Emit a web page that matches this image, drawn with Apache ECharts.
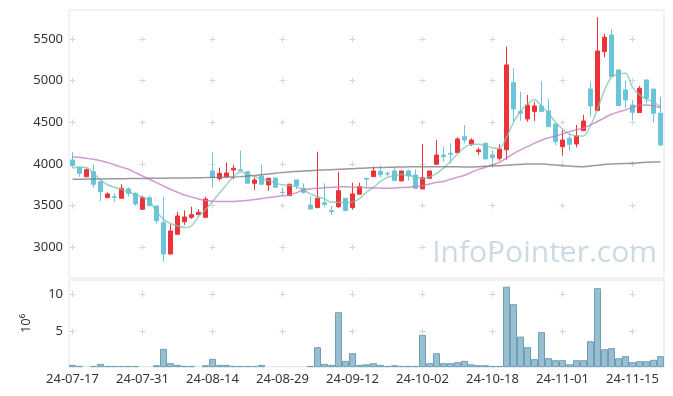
<!DOCTYPE html>
<html><head><meta charset="utf-8">
<script src="https://cdn.jsdelivr.net/npm/echarts@6/dist/echarts.min.js"></script>
<style>html,body{margin:0;padding:0;background:#fff}#c{width:673px;height:396px}</style>
</head><body><div id="c"></div>
<script>
const dates = ['24-07-17','24-07-18','24-07-19','24-07-22','24-07-23','24-07-24','24-07-25','24-07-26','24-07-29','24-07-30','24-07-31',
'24-08-01','24-08-02','24-08-05','24-08-06','24-08-07','24-08-08','24-08-09','24-08-12','24-08-13','24-08-14',
'24-08-16','24-08-19','24-08-20','24-08-21','24-08-22','24-08-23','24-08-26','24-08-27','24-08-28','24-08-29',
'24-08-30','24-09-02','24-09-03','24-09-04','24-09-05','24-09-06','24-09-09','24-09-10','24-09-11','24-09-12',
'24-09-13','24-09-19','24-09-20','24-09-23','24-09-24','24-09-25','24-09-26','24-09-27','24-09-30','24-10-02',
'24-10-04','24-10-07','24-10-08','24-10-10','24-10-11','24-10-14','24-10-15','24-10-16','24-10-17','24-10-18',
'24-10-21','24-10-22','24-10-23','24-10-24','24-10-25','24-10-28','24-10-29','24-10-30','24-10-31','24-11-01',
'24-11-04','24-11-05','24-11-06','24-11-07','24-11-08','24-11-11','24-11-12','24-11-13','24-11-14','24-11-15',
'24-11-18','24-11-19','24-11-20','24-11-21'];

const opens = [4048,3960,3847,3907,3787,3595,3607,3588,3700,3648,3455,3595,3495,3294,2918,3155,3306,3359,3391,3359,
3916,3823,3847,3928,3930,3907,3768,3856,3748,3828,3660,3619,3808,3708,3507,3475,3535,3439,3487,3588,
3475,3636,3828,3847,3912,3884,3916,3796,3916,3868,3700,3828,3996,4108,4128,4136,4328,4240,4148,4249,
4108,4068,4170,4977,4629,4541,4629,4697,4637,4481,4208,4309,4240,4400,4901,4641,5350,5551,5130,4889,
4709,4617,5010,4901,4609];
const closes = [3980,3888,3931,3756,3667,3640,3600,3708,3648,3519,3595,3499,3318,2918,3195,3375,3363,3391,3419,3579,
3840,3888,3892,3948,3920,3768,3808,3756,3828,3720,3655,3756,3740,3660,3459,3588,3515,3427,3679,3439,
3640,3727,3816,3916,3872,3880,3800,3916,3856,3708,3836,3916,4108,4088,4117,4300,4288,4288,4168,4060,
4076,4176,5190,4661,4609,4709,4697,4629,4448,4268,4288,4237,4337,4517,4697,5358,5523,5050,4701,4769,
4621,4910,4790,4609,4228];
const lows = [3956,3847,3840,3715,3555,3590,3547,3588,3607,3499,3455,3499,3282,2826,2918,3155,3267,3340,3391,3359,
3715,3800,3847,3816,3916,3768,3688,3756,3676,3720,3619,3619,3700,3640,3459,3475,3479,3387,3470,3439,
3451,3636,3727,3847,3840,3856,3800,3796,3800,3708,3700,3828,3996,4028,4008,4136,4249,4216,4108,4060,
3956,4040,4050,4508,4521,4508,4517,4629,4448,4228,4100,4160,4200,4400,4569,4641,5283,5050,4701,4669,
4529,4617,4730,4497,4216];
const highs = [4141,3968,3948,3996,3790,3660,3648,3756,3720,3660,3619,3619,3495,3607,3275,3427,3443,3487,3459,3607,
4141,3956,4020,3988,4160,3907,3836,3996,3828,3840,3715,3764,3808,3768,3615,4148,3768,3495,3907,3588,
3776,3776,3828,3968,3980,3912,3948,3916,3930,3936,4240,3916,4288,4208,4249,4321,4469,4309,4196,4253,
4168,4237,5410,5150,4869,4829,4749,4999,4778,4481,4409,4369,4469,4589,4989,5763,5563,5619,5130,5001,
4769,4938,5010,4901,4809];

const volumes = [0.55,0.41,0.30,0.41,0.68,0.41,0.40,0.40,0.40,0.40,0.32,0.32,0.50,2.69,0.77,0.55,0.41,0.41,0.32,0.50,
1.35,0.55,0.55,0.41,0.40,0.40,0.40,0.55,0.32,0.31,0.31,0.31,0.31,0.32,0.41,2.91,0.68,0.55,7.59,1.08,
2.11,0.55,0.62,0.77,0.55,0.41,0.50,0.41,0.41,0.41,4.56,0.77,2.11,0.77,0.77,0.91,1.08,0.62,0.50,0.50,
0.41,0.41,11.0,8.66,4.33,2.91,1.31,4.92,1.44,1.17,1.17,0.62,1.17,1.17,3.71,10.8,2.64,2.78,1.44,1.71,
0.91,1.04,1.04,1.22,1.71];

const ma5 = [3948,3965,3958,3890,3810,3750,3720,3695,3665,3630,3605,3560,3430,3335,3285,3258,3238,3255,3370,3450,
3550,3650,3750,3850,3905,3880,3850,3822,3800,3770,3750,3740,3725,3690,3640,3610,3580,3540,3540,3535,
3545,3585,3660,3720,3790,3840,3860,3875,3868,3840,3825,3845,3885,3950,4030,4120,4200,4235,4237,4218,
4195,4185,4320,4500,4630,4720,4775,4690,4610,4500,4420,4362,4337,4337,4460,4660,4885,5045,5080,5090,
4920,4830,4777,4750,4680];
const ma20 = [4088,4080,4068,4056,4040,4016,3990,3962,3936,3896,3856,3816,3776,3736,3696,3660,3627,3605,3579,3560,
3552,3550,3549,3550,3555,3563,3572,3585,3597,3607,3617,3627,3655,3688,3700,3708,3714,3720,3724,3727,
3722,3718,3715,3712,3710,3708,3712,3716,3720,3730,3740,3760,3780,3790,3816,3840,3865,3900,3935,3960,
3990,4020,4070,4125,4170,4208,4250,4285,4315,4337,4362,4389,4410,4430,4470,4510,4555,4597,4625,4650,
4680,4705,4708,4700,4677];
const ma60 = [3816,3817,3818,3819,3820,3821,3822,3823,3824,3825,3826,3827,3828,3829,3830,3831,3832,3833,3834,3836,
3838,3840,3842,3844,3848,3855,3862,3870,3880,3890,3898,3905,3910,3915,3920,3925,3928,3932,3936,3940,
3944,3948,3952,3955,3958,3960,3962,3964,3966,3967,3968,3968,3968,3968,3968,3966,3965,3965,3968,3972,
3976,3980,3985,3990,3995,4000,4000,4000,3995,3988,3980,3975,3970,3968,3975,3985,3995,4000,4002,4005,
4010,4015,4020,4025,4028];

const priceTicks = [3000,3500,4000,4500,5000,5500];
const volumeTicks = [5,10];
const dateLabelEvery = 10;

const candleData = dates.map((d,i)=>[opens[i],closes[i],lows[i],highs[i]]);

const FONT = 'Noto Sans';
const chart = echarts.init(document.getElementById('c'), null, {renderer:'canvas'});
const plusH = {color:'#d6d6d6', width:1, type:[6,64], dashOffset:-0.5};
chart.setOption({
  animation:false,
  backgroundColor:'#ffffff',
  grid:[
    {left:69, right:9, top:10, height:268, show:true, borderColor:'#e4e4e4', borderWidth:1},
    {left:69, right:9, top:280, height:86.7, show:true, borderColor:'#e4e4e4', borderWidth:1}
  ],
  xAxis:[
    {type:'category', gridIndex:0, data:dates, boundaryGap:true,
     axisLine:{show:false}, axisTick:{show:false}, axisLabel:{show:false}, splitLine:{show:false}},
    {type:'category', gridIndex:1, data:dates, boundaryGap:true,
     axisLine:{show:false}, axisTick:{show:false}, splitLine:{show:false},
     axisLabel:{interval:dateLabelEvery-1, color:'#333', fontSize:13, fontFamily:FONT, margin:6}},
    {type:'value', gridIndex:0, min:-0.5, max:dates.length-0.5, splitNumber:8, position:'top',
     axisLine:{show:false}, axisTick:{show:false}, axisLabel:{show:false},
     splitLine:{show:true, showMinLine:false, showMaxLine:false, lineStyle:{color:'#d6d6d6', width:1, type:[6,35.615], dashOffset:15.485}}},
    {type:'value', gridIndex:1, min:-0.5, max:dates.length-0.5, splitNumber:8, position:'top',
     axisLine:{show:false}, axisTick:{show:false}, axisLabel:{show:false},
     splitLine:{show:true, showMinLine:false, showMaxLine:false, lineStyle:{color:'#d6d6d6', width:1, type:[6,31.37], dashOffset:26.17}}}
  ],
  yAxis:[
    {type:'value', gridIndex:0, min:2630, max:5850, scale:true,
     axisLine:{show:false}, axisTick:{show:false},
     axisLabel:{color:'#333', fontSize:13, fontFamily:FONT, margin:6, showMinLabel:false, showMaxLabel:false,
       formatter:v=>priceTicks.includes(v)?String(v):''},
     splitLine:{show:true, showMinLine:false, showMaxLine:false, lineStyle:plusH}},
    {type:'value', gridIndex:1, min:'dataMin', max:11.9, splitNumber:2,
     name:'10\u2076', nameLocation:'middle', nameGap:36, nameRotate:90,
     nameTextStyle:{color:'#333', fontSize:13, fontFamily:FONT},
     axisLine:{show:false}, axisTick:{show:false},
     axisLabel:{color:'#333', fontSize:13, fontFamily:FONT, margin:6, showMinLabel:false, showMaxLabel:false,
       formatter:v=>volumeTicks.includes(v)?String(v):''},
     splitLine:{show:true, showMinLine:false, showMaxLine:false, lineStyle:plusH}}
  ],
  graphic:[{type:'text', right:16, top:238, z:0, silent:true,
    style:{text:'InfoPointer.com', fontSize:30, fontFamily:'Open Sans', fill:'#cbdae4'}}],
  series:[
    {type:'candlestick', xAxisIndex:0, yAxisIndex:0, data:candleData, barWidth:5,
     itemStyle:{color:'#ee3338', color0:'#6cc4da', borderColor:'#ee3338', borderColor0:'#6cc4da', borderWidth:1}},
    {type:'line', xAxisIndex:0, yAxisIndex:0, data:ma5, symbol:'none', smooth:0.3,
     lineStyle:{color:'rgba(120,196,178,0.75)', width:1.5}},
    {type:'line', xAxisIndex:0, yAxisIndex:0, data:ma20, symbol:'none', smooth:0.3,
     lineStyle:{color:'rgba(196,120,190,0.75)', width:1.5}},
    {type:'line', xAxisIndex:0, yAxisIndex:0, data:ma60, symbol:'none', smooth:0.3,
     lineStyle:{color:'rgba(120,120,120,0.75)', width:1.5}},
    {type:'bar', xAxisIndex:1, yAxisIndex:1, data:volumes, barCategoryGap:'0%',
     itemStyle:{color:'#98bfd1', borderColor:'#6f9fb6', borderWidth:1}}
  ]
});
</script></body></html>
